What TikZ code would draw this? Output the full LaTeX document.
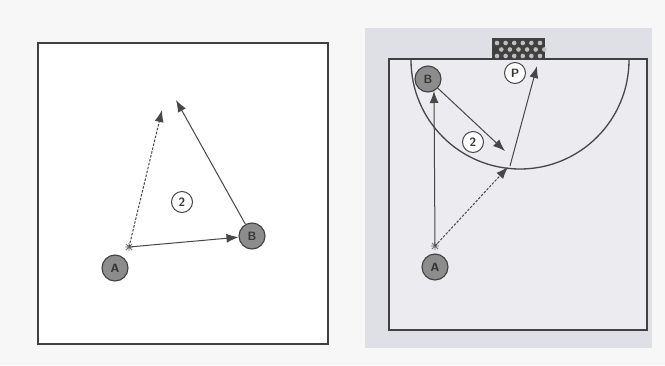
\documentclass[tikz,border=0pt]{standalone}
\usetikzlibrary{arrows.meta}
\begin{document}
\begin{tikzpicture}[x=1pt,y=-1pt,
  line/.style={draw=black!72,line width=1pt},
  arr/.style={line,-{Latex[length=12pt,width=9pt]}},
  darr/.style={arr,dashed,dash pattern=on 2.5pt off 1.5pt},
  player/.style={circle,draw=black!75,line width=1.1pt,fill=black!45,minimum size=26pt,inner sep=0pt,font=\sffamily\bfseries\large,text=black!80},
  tag/.style={circle,draw=black!72,line width=1pt,fill=white,minimum size=21pt,inner sep=0pt,font=\sffamily\bfseries\large,text=black!80},
  boxline/.style={draw=black!75,line width=1.6pt}]
\useasboundingbox (0,0) rectangle (665,365);
\fill[white!97!black] (0,0) rectangle (665,365);
% left panel
\fill[white] (38,43) rectangle (328,344);
\draw[boxline] (38,43) rectangle (328,344);
% right panel background
\fill[black!10!white!97!blue] (365,28) rectangle (652,348);
\fill[black!6!white!98!blue] (389,59) rectangle (647,330);
\draw[boxline] (389,59) rectangle (647,330);
% semicircle
\draw[line,line width=1.3pt] (411,60) arc[start angle=180,end angle=0,radius=109];
% goal
\fill[black!75] (492,38) rectangle (545,60);
\foreach \i in {0,...,5}{\foreach \j in {0,1,2}{
  \fill[black!25] ({497+\i*8.6+mod(\j,2)*4.3},{43+\j*6.5}) circle (2.3pt);}}
% ----- left drill -----
\node[player] (A1) at (115,268) {A};
\node[player] (B1) at (252,236) {B};
\coordinate (S1) at (129,247);
\coordinate (T1) at (162,110);
\coordinate (T2) at (176,100);
\node[tag] (N1) at (182,202) {2};
\draw[line,draw=black!55,line width=0.8pt] (S1) ++(-4,0) -- ++(8,0) (S1) ++(0,-4) -- ++(0,8)
  (S1) ++(-3,-3) -- ++(6,6) (S1) ++(-3,3) -- ++(6,-6);
\draw[darr] (S1) -- (T1);
\draw[arr] (S1) -- (B1);
\draw[arr] (B1) -- (T2);
% ----- right drill -----
\node[player] (B2) at (428,79) {B};
\node[player] (A2) at (435,267) {A};
\node[tag] (P) at (515,73) {P};
\node[tag] (N2) at (473,142) {2};
\coordinate (S2) at (435,246);
\coordinate (V) at (434,91);
\coordinate (D1) at (505,151);
\coordinate (D2) at (508,167);
\coordinate (E) at (510,166);
\coordinate (G) at (537,66);
\draw[line,draw=black!55,line width=0.8pt] (S2) ++(-4,0) -- ++(8,0) (S2) ++(0,-4) -- ++(0,8)
  (S2) ++(-3,-3) -- ++(6,6) (S2) ++(-3,3) -- ++(6,-6);
\draw[arr] (S2) -- (V);
\draw[arr] (B2) -- (D1);
\draw[darr] (S2) -- (D2);
\draw[arr] (E) -- (G);
\end{tikzpicture}
\end{document}
